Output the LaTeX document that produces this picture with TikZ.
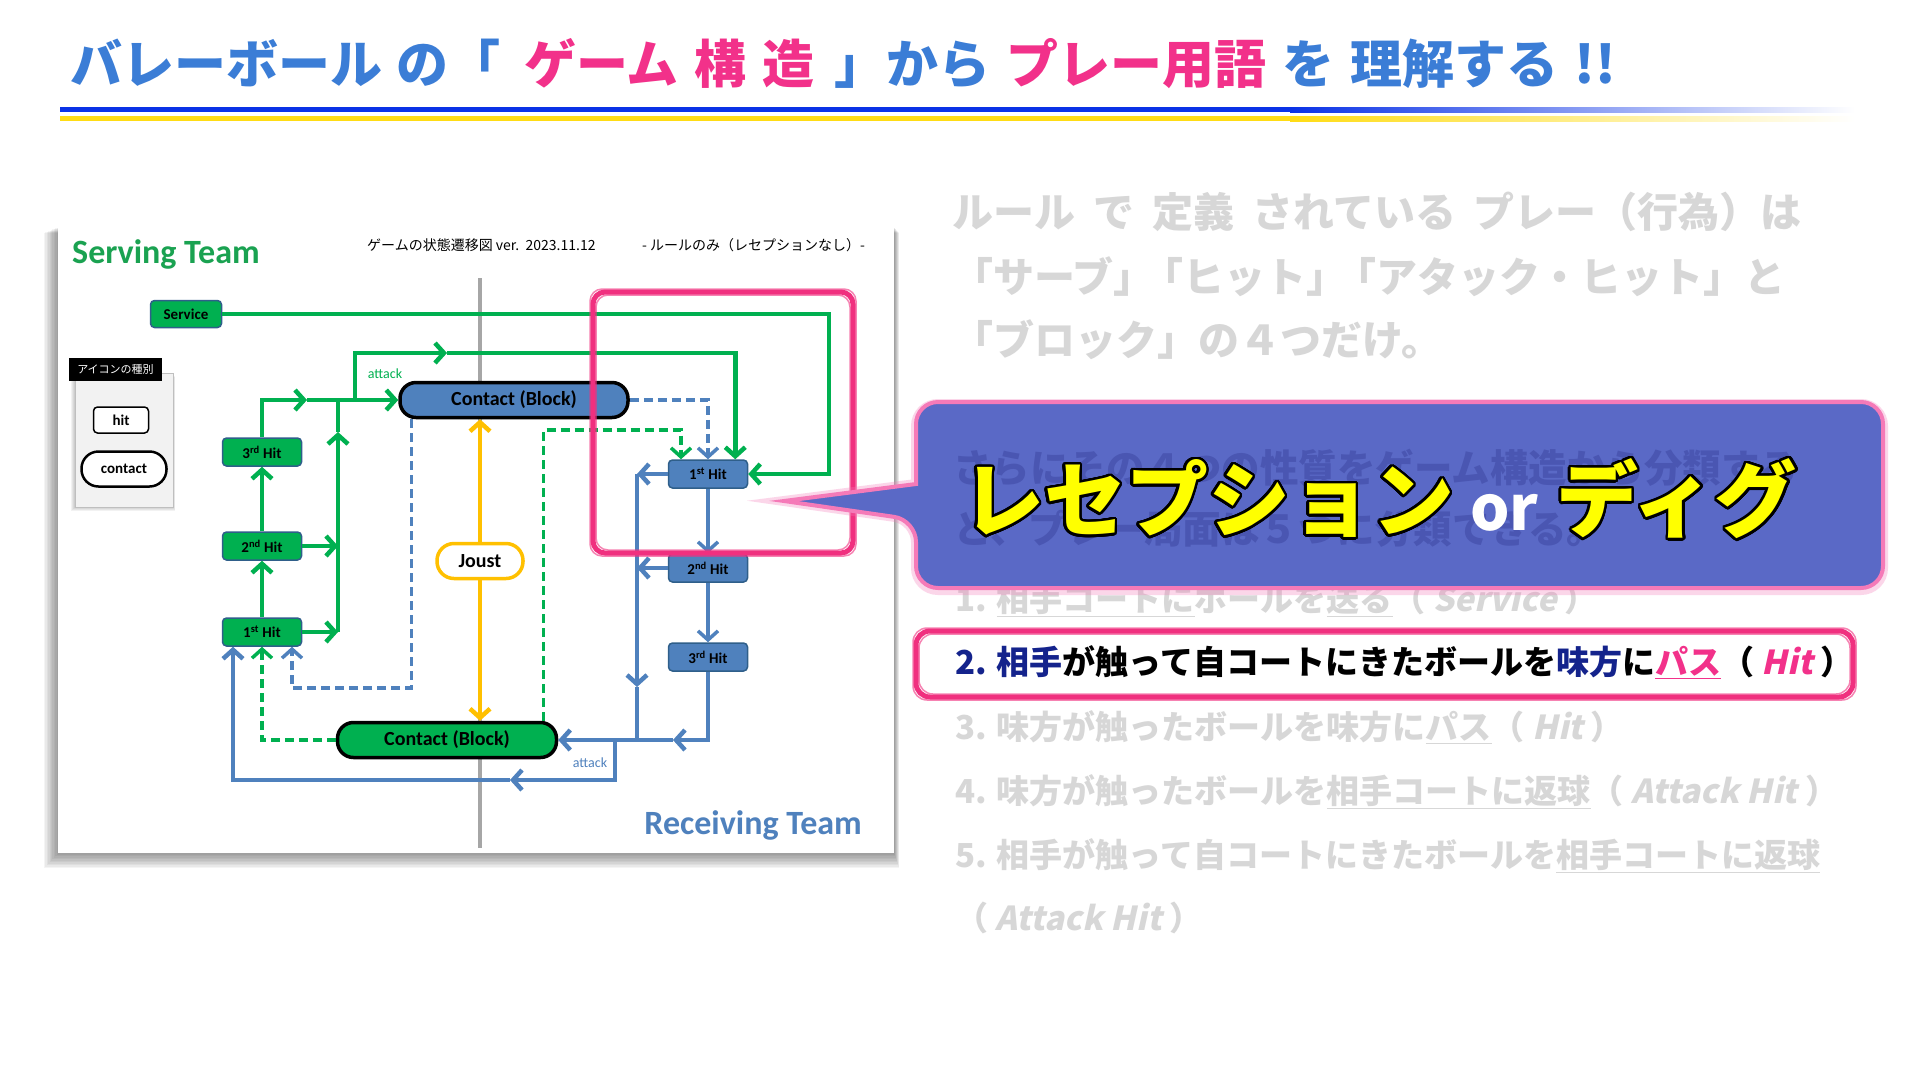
\documentclass[tikz,border=0pt]{standalone}
\usepackage{fontspec}
\usepackage{contour}
\usetikzlibrary{arrows.meta,positioning,calc}
\setmainfont{Noto Sans CJK JP}
\newfontfamily\slantjp{Noto Sans CJK JP}[FakeSlant=0.22]
\newfontfamily\calfont{Carlito}
\newcommand\slit[1]{{\slantjp\bfseries #1}}

\definecolor{ttlblue}{HTML}{3B7DD6}
\definecolor{ttlpink}{HTML}{F2318A}
\definecolor{barblue}{HTML}{0A32E6}
\definecolor{baryel}{HTML}{FFDC14}
\definecolor{srvgreen}{HTML}{00B050}
\definecolor{srvtext}{HTML}{1AA251}
\definecolor{rcvblue}{HTML}{4F81BD}
\definecolor{hitedge}{HTML}{2F5F8A}
\definecolor{joustyel}{HTML}{FFC000}
\definecolor{netgray}{HTML}{A6A6A6}
\definecolor{markpink}{HTML}{F0307F}
\definecolor{calloutfill}{HTML}{5A69C6}
\definecolor{calloutedge}{HTML}{F57AB8}
\definecolor{hiddenblue}{HTML}{4A56B2}
\definecolor{fadegray}{HTML}{D7D7D7}
\definecolor{navy}{HTML}{14238C}
\definecolor{recyellow}{HTML}{FFFF00}

\tikzset{
  hitbox/.style={draw=hitedge, line width=1.5pt, rounded corners=4pt,
    minimum width=79pt, minimum height=28pt, inner sep=0pt,
    font=\calfont\bfseries\fontsize{15}{15}\selectfont},
  ghit/.style={hitbox, fill=srvgreen},
  bhit/.style={hitbox, fill=rcvblue},
  contactbox/.style={draw=black, line width=3.5pt, rounded corners=16pt,
    minimum height=35pt, inner sep=0pt,
    font=\calfont\bfseries\fontsize{20}{20}\selectfont},
  gline/.style={draw=srvgreen, line width=4.5pt},
  bline/.style={draw=rcvblue, line width=4.5pt},
  gdash/.style={draw=srvgreen, line width=3.5pt, dash pattern=on 9pt off 5pt},
  bdash/.style={draw=rcvblue, line width=3.5pt, dash pattern=on 9pt off 5pt},
  yline/.style={draw=joustyel, line width=4.5pt},
  marker/.style={draw=markpink, line width=5pt, rounded corners=12pt},
  roughmark/.style={draw=markpink, line width=1.5pt, rounded corners=12pt, opacity=.6},
  headline/.style={anchor=west, inner sep=0pt, text=fadegray,
    font=\bfseries\fontsize{41}{41}\selectfont},
  hiddenline/.style={anchor=west, inner sep=0pt, text=hiddenblue,
    font=\bfseries\fontsize{38.5}{38.5}\selectfont},
  listline/.style={anchor=west, inner sep=0pt, text=fadegray,
    font=\bfseries\fontsize{33}{33}\selectfont},
  smalllbl/.style={inner sep=0pt, font=\calfont\fontsize{14}{14}\selectfont}
}
\contourlength{2.5pt}
\contournumber{32}

\begin{document}
\begin{tikzpicture}[x=1pt,y=-1pt,>={Straight Barb[length=9pt,width=20pt]}]
\useasboundingbox (0,0) rectangle (1920,1080);
\fill[white] (0,0) rectangle (1920,1080);

% title
\node[anchor=west, inner sep=0pt, font=\bfseries\fontsize{52}{52}\selectfont] (title) at (70,64)
  {\textcolor{ttlblue}{バレーボール\hspace{14pt}の「}\hspace{24pt}\textcolor{ttlpink}{ゲーム\hspace{16pt}構\hspace{16pt}造}\hspace{20pt}\textcolor{ttlblue}{」から}\hspace{16pt}\textcolor{ttlpink}{プレー用語}\hspace{16pt}\textcolor{ttlblue}{を\hspace{16pt}理解する\hspace{16pt}!!}};
\fill[barblue] (60,107) rectangle (1290,112);
\shade[left color=barblue, right color=white] (1290,107) rectangle (1855,112);
\fill[baryel] (60,116) rectangle (1290,121);
\shade[left color=baryel, right color=white] (1290,116) rectangle (1855,121);

% diagram sheet
\foreach \s in {1,...,10}
  \fill[black, opacity=0.045] (58-1.4*\s,227+0.6*\s) rectangle (894+0.5*\s,853+1.5*\s);
\fill[white] (58,227) rectangle (894,853);
\node[anchor=west, inner sep=0pt, text=srvtext, font=\calfont\bfseries\fontsize{34}{34}\selectfont] (srvteam) at (72,254) {Serving Team};
\node[anchor=east, inner sep=0pt, text=rcvblue, font=\calfont\bfseries\fontsize{34}{34}\selectfont] (rcvteam) at (862,825) {Receiving Team};
\node[anchor=west, inner sep=0pt, font=\fontsize{14}{14}\selectfont] (hdr) at (367,245) {ゲームの状態遷移図 ver.\ \ 2023.11.12};
\node[anchor=west, inner sep=0pt, font=\fontsize{14}{14}\selectfont] (hdr2) at (642,245) {- ルールのみ（レセプションなし）-};

% legend
\foreach \s in {1,...,4}
  \fill[black, opacity=0.05] (75-\s,373+\s) rectangle (173+0.5*\s,507+\s);
\node[draw=black!25, fill=black!5, minimum width=98pt, minimum height=134pt, inner sep=0pt] (legbox) at (124,440) {};
\node[fill=black, text=white, minimum width=93pt, minimum height=23pt, inner sep=0pt, font=\fontsize{11}{11}\selectfont] (leglbl) at (115.5,369.5) {アイコンの種別};
\node[draw=black, line width=1.5pt, rounded corners=4pt, fill=white, minimum width=55pt, minimum height=26pt, inner sep=0pt, font=\calfont\bfseries\fontsize{15}{15}\selectfont] (leghit) at (121,420) {hit};
\node[draw=black, line width=2.5pt, rounded corners=17pt, fill=white, minimum width=85pt, minimum height=35pt, inner sep=0pt, font=\calfont\bfseries\fontsize{15}{15}\selectfont] (legcon) at (124,469) {contact};

% net
\coordinate (nettop) at (480,278);
\coordinate (netbot) at (480,848);
\draw[netgray, line width=4pt] (nettop) -- (netbot);

% nodes
\node[ghit, minimum width=71pt, minimum height=27pt] (svc) at (186,314) {Service};
\node[ghit] (hit3g) at (262,452) {3\textsuperscript{rd} Hit};
\node[ghit] (hit2g) at (262,546) {2\textsuperscript{nd} Hit};
\node[ghit] (hit1g) at (262,632) {1\textsuperscript{st} Hit};
\node[bhit] (hit1b) at (708,474) {1\textsuperscript{st} Hit};
\node[bhit] (hit2b) at (708,568) {2\textsuperscript{nd} Hit};
\node[bhit] (hit3b) at (708,657) {3\textsuperscript{rd} Hit};
\node[contactbox, fill=rcvblue, minimum width=228pt] (cbb) at (514,400) {Contact (Block)};
\node[contactbox, fill=srvgreen, minimum width=219pt] (cbg) at (447,740) {Contact (Block)};
\node[draw=joustyel, line width=3.5pt, fill=white, rounded corners=17pt, minimum width=86pt, minimum height=35pt, inner sep=0pt, font=\calfont\bfseries\fontsize{20}{20}\selectfont] (joust) at (480,561) {Joust};

% serving team flow
\coordinate (srvturn) at (829,400);
\draw[gline,->] (svc.east) -| (srvturn) |- (hit1b.east);
\draw[gline,->] (hit1g) -- (hit2g);
\draw[gline,->] (hit2g) -- (hit3g);
\coordinate (gmid) at (307,400);
\draw[gline,->] (hit3g.north) |- (gmid);
\draw[gline,->] (gmid) -- (cbb.west);
\coordinate (gj1) at (338,632);
\coordinate (gj2) at (338,546);
\coordinate (gup) at (338,432);
\coordinate (gtop) at (338,400);
\draw[gline,->] (hit1g.east) -- (gj1);
\draw[gline,->] (hit2g.east) -- (gj2);
\draw[gline,->] (gj1) -- (gup);
\draw[gline] (gup) -- (gtop);
\coordinate (atk0) at (355,400);
\coordinate (atk1) at (447,353);
\coordinate (atkin) at ([xshift=-13pt]hit1b.north east);
\draw[gline,->] (atk0) |- (atk1);
\draw[gline,->] (atk1) -| (atkin);
\node[smalllbl, text=srvgreen] (atklbl) at (385,374) {attack};
\draw[gdash,->] (cbg.west) -| (hit1g.south);
\coordinate (gd0) at ([xshift=-15pt]cbg.north east);
\coordinate (gd1) at (681,430);
\draw[gdash,->] (gd0) |- (gd1) -- (gd1 |- hit1b.north);

% receiving team flow
\draw[bdash,->] (cbb.east) -| (hit1b.north);
\coordinate (bd0) at ([xshift=13pt]cbb.south west);
\coordinate (bd1) at (292,688);
\draw[bdash,->] (bd0) |- (bd1) -- (bd1 |- hit1g.south);
\draw[bline,line width=3.5pt,->] (hit1b) -- (hit2b);
\draw[bline,line width=3.5pt,->] (hit2b) -- (hit3b);
\coordinate (bj1) at (637,474);
\coordinate (bj2) at (637,568);
\coordinate (bdn) at (637,687);
\coordinate (bjoin) at (637,740);
\draw[bline,->] (hit1b.west) -- (bj1);
\draw[bline,->] (hit2b.west) -- (bj2);
\draw[bline,->] (bj1) -- (bdn);
\draw[bline] (bdn) -- (bjoin);
\coordinate (bmid) at (673,740);
\draw[bline,->] (hit3b.south) |- (bmid);
\draw[bline,->] (bmid) -- (cbg.east);
\coordinate (batk0) at (615,740);
\coordinate (batk1) at (510,780);
\coordinate (batk2) at (233,780);
\draw[bline,->] (batk0) |- (batk1);
\draw[bline,->] (batk1) -- (batk2) -- (batk2 |- hit1g.south);
\node[smalllbl, text=rcvblue] (batklbl) at (590,763) {attack};

% joust
\draw[yline,->] (joust.north) -- (joust.north |- cbb.south);
\draw[yline,->] (joust.south) -- (joust.south |- cbg.north);

% pink marker on the diagram
\draw[marker] (593,292) rectangle (853,553);
\draw[roughmark] (590,289) rectangle (856,556);
\draw[roughmark] (596,295) rectangle (850,550);

% right side text
\node[headline] (rule1) at (952,212) {ルール\hspace{18pt}で\hspace{18pt}定義\hspace{18pt}されている\hspace{18pt}プレー（行為）は};
\node[headline] (rule2) at (952,277) {「サーブ」\hspace{-12pt}「ヒット」\hspace{-12pt}「アタック・ヒット」と};
\node[headline] (rule3) at (952,340) {「ブロック」の４つだけ。};
\node[listline] (item1) at (955,600) {1. \underline{相手コートに}ボールを\underline{送る}（ \slit{Service} ）};
\node[listline, text=black] (item2) at (955,662) {\textcolor{navy}{2. 相手}が触って自コートにきたボールを\textcolor{navy}{味方}に\textcolor{ttlpink}{\underline{パス}}（ \textcolor{ttlpink}{\slit{Hit}} ）};
\node[listline] (item3) at (955,727) {3. 味方が触ったボールを味方に\underline{パス}（ \slit{Hit} ）};
\node[listline] (item4) at (955,792) {4. 味方が触ったボールを\underline{相手コートに返球}（ \slit{Attack Hit} ）};
\node[listline] (item5) at (955,856) {5. 相手が触って自コートにきたボールを\underline{相手コートに返球}};
\node[listline] (item6) at (955,918) {（ \slit{Attack Hit} ）};
\draw[marker, rounded corners=14pt] (916,631) rectangle (1853,697);
\draw[roughmark, rounded corners=14pt] (913,628) rectangle (1856,700);
\draw[roughmark, rounded corners=14pt] (919,634) rectangle (1850,694);

% callout
\draw[calloutedge, line width=10pt, opacity=.3, rounded corners=22pt]
  (916,404) -- (1883,404) -- (1883,590) -- (916,590) -- (916,520)
  [sharp corners] -- (784,501) -- (916,484) [rounded corners=22pt] -- cycle;
\draw[calloutedge, line width=4pt, fill=calloutfill, rounded corners=22pt]
  (916,402) -- (1883,402) -- (1883,588) -- (916,588) -- (916,520)
  [sharp corners] -- (784,501) -- (916,484) [rounded corners=22pt] -- cycle;
\node[hiddenline] (hidden1) at (953,468) {さらにその４つの性質をゲーム構造から分類する};
\node[hiddenline] (hidden2) at (953,529) {と、プレー局面は５つに分類できる。};
\node[anchor=west, inner sep=0pt, font=\bfseries\fontsize{82}{82}\selectfont] (reception) at (962,500)
  {\color{recyellow}\contour{black}{レセプション}\hspace{16pt}{\fontsize{62}{62}\selectfont\color{white}or}\hspace{18pt}\contour{black}{ディグ}};
\end{tikzpicture}
\end{document}
